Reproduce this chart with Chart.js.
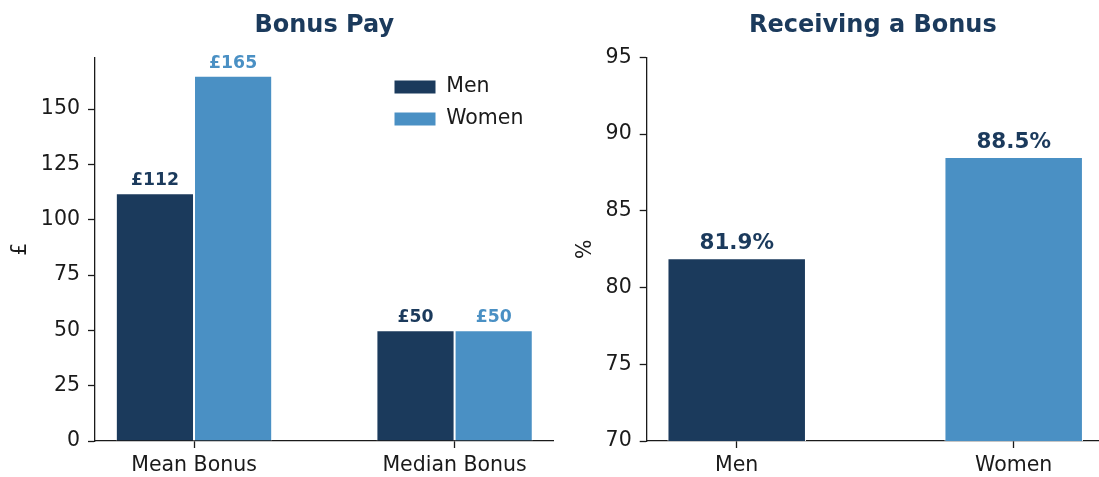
<!DOCTYPE html>
<html>
<head>
<meta charset="utf-8">
<script src="https://cdn.jsdelivr.net/npm/chart.js@4.4.1/dist/chart.umd.min.js"></script>
<style>
html, body { margin: 0; padding: 0; background: #fff; }
#wrap { position: relative; width: 1099px; height: 477px; overflow: hidden; }
#pay { position: absolute; left: 0; top: 0; }
#rec { position: absolute; left: 560px; top: 0; }
</style>
</head>
<body>
<div id="wrap">
  <canvas id="pay" width="560" height="477"></canvas>
  <canvas id="rec" width="539" height="477"></canvas>
</div>
<script>
// Bonus Pay (left)
var payCategories = ["Mean Bonus", "Median Bonus"];
var payMen = [112, 50];
var payWomen = [165, 50];
var payTicks = [0, 25, 50, 75, 100, 125, 150];
var payMax = 173.25;

// Receiving a Bonus (right)
var recCategories = ["Men", "Women"];
var recValues = [81.9, 88.5];
var recTicks = [70, 75, 80, 85, 90, 95];

var navy = "#1b3a5c";
var blue = "#4a90c4";
var ink = "#1a1a1a";
var tickSize = 20.5;

Chart.defaults.font.family = "'DejaVu Sans', sans-serif";
Chart.defaults.color = ink;
Chart.defaults.animation = false;

// value labels above each bar
function valueLabels(format, size, colors, gap) {
    return {
        id: "valueLabels",
        afterDatasetsDraw: function (chart) {
            var ctx = chart.ctx;
            ctx.save();
            ctx.font = "bold " + size + "px 'DejaVu Sans'";
            ctx.textAlign = "center";
            ctx.textBaseline = "alphabetic";
            chart.data.datasets.forEach(function (ds, di) {
                chart.getDatasetMeta(di).data.forEach(function (bar, i) {
                    var v = ds.data[i];
                    if (typeof v === "object") v = v.y;
                    ctx.fillStyle = colors[di];
                    ctx.fillText(format(v), bar.x, bar.y - gap);
                });
            });
            ctx.restore();
        }
    };
}

// move the legend into the upper right of the plot
var legendSpot = {
    id: "legendSpot",
    afterLayout: function (chart) {
        var lg = chart.legend;
        lg.left = 382.5;
        lg.top = 65.25;
    }
};

function axisStyle() {
    return {
        grid: { display: true, drawOnChartArea: false, drawTicks: true, tickLength: 7, color: ink, tickWidth: 1.3, offset: false },
        border: { display: true, color: ink, width: 1.3 }
    };
}

function pts(values) {
    return values.map(function (v, i) { return { x: i, y: v }; });
}

var payX = axisStyle();
var payY = axisStyle();
var ctx1 = document.getElementById("pay").getContext("2d");
var chart1 = new Chart(ctx1, {
    type: "bar",
    data: {
        datasets: [
            { label: "Men", data: pts(payMen), backgroundColor: navy, borderColor: "#fff", borderWidth: 1, clip: 0 },
            { label: "Women", data: pts(payWomen), backgroundColor: blue, borderColor: "#fff", borderWidth: 1, clip: 0 }
        ]
    },
    options: {
        responsive: false,
        layout: { padding: { top: 0, right: 6.4, bottom: 0, left: 0 } },
        datasets: { bar: { categoryPercentage: 0.6, barPercentage: 1 } },
        plugins: {
            title: {
                display: true, text: "Bonus Pay", color: navy, fullSize: false,
                font: { size: 24, weight: "bold" }, padding: { top: 11.3, bottom: 17.5 }
            },
            legend: {
                display: true, position: "chartArea", align: "start",
                labels: { boxWidth: 42, boxHeight: 14, padding: 11.5, color: ink, font: { size: tickSize } }
            },
            tooltip: { enabled: false }
        },
        scales: {
            x: {
                type: "linear", min: -0.38, max: 1.38, offset: false,
                grid: payX.grid, border: payX.border,
                ticks: {
                    font: { size: tickSize }, padding: 5, color: ink, maxRotation: 0, autoSkip: false,
                    callback: function (v) { return payCategories[v]; }
                },
                afterBuildTicks: function (s) { s.ticks = payCategories.map(function (c, i) { return { value: i }; }); },
                afterFit: function (s) { s.height = 36; }
            },
            y: {
                min: 0, max: payMax,
                grid: payY.grid, border: payY.border,
                ticks: { font: { size: tickSize }, padding: 8, color: ink },
                afterBuildTicks: function (s) { s.ticks = payTicks.map(function (t) { return { value: t }; }); },
                title: { display: true, text: "£", color: ink, font: { size: tickSize }, padding: { top: 8.2, bottom: 0 } },
                afterFit: function (s) { s.width = 95; }
            }
        }
    },
    plugins: [valueLabels(function (v) { return "£" + Math.round(v); }, 17.3, [navy, blue], 8), legendSpot]
});

var recX = axisStyle();
var recY = axisStyle();
var ctx2 = document.getElementById("rec").getContext("2d");
var chart2 = new Chart(ctx2, {
    type: "bar",
    data: {
        datasets: [
            { label: "Receiving a Bonus", data: pts(recValues), backgroundColor: [navy, blue], borderColor: "#fff", borderWidth: 1, clip: 0 }
        ]
    },
    options: {
        responsive: false,
        layout: { padding: { top: 0, right: 0, bottom: 0, left: 0 } },
        datasets: { bar: { categoryPercentage: 0.5, barPercentage: 1 } },
        plugins: {
            title: {
                display: true, text: "Receiving a Bonus", color: navy, fullSize: false,
                font: { size: 24, weight: "bold" }, padding: { top: 11.3, bottom: 17.2 }
            },
            legend: { display: false },
            tooltip: { enabled: false }
        },
        scales: {
            x: {
                type: "linear", min: -0.325, max: 1.308, offset: false,
                grid: recX.grid, border: recX.border,
                ticks: {
                    font: { size: tickSize }, padding: 5, color: ink, maxRotation: 0, autoSkip: false,
                    callback: function (v) { return recCategories[v]; }
                },
                afterBuildTicks: function (s) { s.ticks = recCategories.map(function (c, i) { return { value: i }; }); },
                afterFit: function (s) { s.height = 36; }
            },
            y: {
                min: 70, max: 95,
                grid: recY.grid, border: recY.border,
                ticks: { font: { size: tickSize }, padding: 8, color: ink },
                afterBuildTicks: function (s) { s.ticks = recTicks.map(function (t) { return { value: t }; }); },
                title: { display: true, text: "%", color: ink, font: { size: tickSize }, padding: { top: 13.2, bottom: 0 } },
                afterFit: function (s) { s.width = 86.7; }
            }
        }
    },
    plugins: [valueLabels(function (v) { return v.toFixed(1) + "%"; }, 21.5, [navy], 9.5)]
});
</script>
</body>
</html>
